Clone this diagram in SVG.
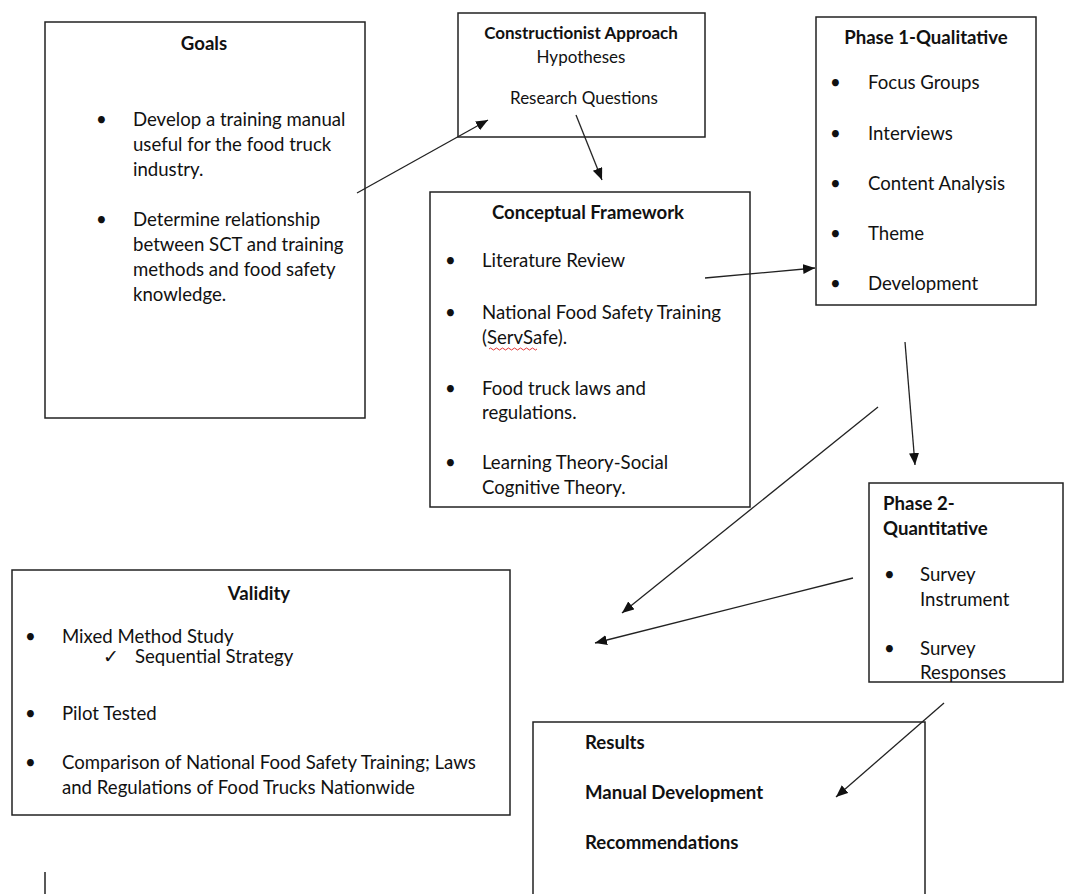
<svg xmlns="http://www.w3.org/2000/svg" width="1065" height="894" viewBox="0 0 1065 894">
<style>
.box{fill:#fff;stroke:#222;stroke-width:1.5}
text{font-family:Lato,"Open Sans",sans-serif;font-size:18.6px;fill:#111}
.b{font-weight:bold}
.c{text-anchor:middle}
.s{font-size:17px}
.conn{stroke:#222;stroke-width:1.3;fill:none;marker-end:url(#ah)}
</style>
<defs>
<marker id="ah" markerUnits="userSpaceOnUse" markerWidth="14" markerHeight="12" refX="12" refY="5" orient="auto">
<path d="M0,0 L12,5 L0,10 Z" fill="#111"/>
</marker>
</defs>
<g id="goals">
<rect class="box" x="45" y="22" width="320" height="396"/>
<text class="b c" x="204" y="50">Goals</text>
<text x="96" y="126">•</text><text x="133" y="126">Develop a training manual</text>
<text x="133" y="151">useful for the food truck</text>
<text x="133" y="176">industry.</text>
<text x="96" y="226">•</text><text x="133" y="226">Determine relationship</text>
<text x="133" y="251">between SCT and training</text>
<text x="133" y="276">methods and food safety</text>
<text x="133" y="301">knowledge.</text>
</g>
<g id="constructionist">
<rect class="box" x="458" y="13" width="247" height="124"/>
<text class="b c s" x="581" y="39">Constructionist Approach</text>
<text class="c s" x="581" y="63">Hypotheses</text>
<text class="c s" x="584" y="104">Research Questions</text>
</g>
<g id="conceptual">
<rect class="box" x="430" y="192" width="320" height="315"/>
<text class="b c" x="588" y="219">Conceptual Framework</text>
<text x="445" y="267">•</text><text x="482" y="267">Literature Review</text>
<text x="445" y="319">•</text><text x="482" y="319">National Food Safety Training</text>
<text x="482" y="344">(ServSafe).</text>
<path d="M489,349 q1.5,-2 3,0 t3,0 t3,0 t3,0 t3,0 t3,0 t3,0 t3,0 t3,0 t3,0 t3,0 t3,0 t3,0 t3,0 t3,0 t3,0" stroke="#e02020" stroke-width="0.9" fill="none"/>
<text x="445" y="395">•</text><text x="482" y="395">Food truck laws and</text>
<text x="482" y="419">regulations.</text>
<text x="445" y="469">•</text><text x="482" y="469">Learning Theory-Social</text>
<text x="482" y="494">Cognitive Theory.</text>
</g>
<g id="phase1">
<rect class="box" x="816" y="17" width="220" height="288"/>
<text class="b c" x="926" y="44">Phase 1-Qualitative</text>
<text x="830" y="89">•</text><text x="868" y="89">Focus Groups</text>
<text x="830" y="140">•</text><text x="868" y="140">Interviews</text>
<text x="830" y="190">•</text><text x="868" y="190">Content Analysis</text>
<text x="830" y="240">•</text><text x="868" y="240">Theme</text>
<text x="830" y="290">•</text><text x="868" y="290">Development</text>
</g>
<g id="phase2">
<rect class="box" x="869" y="483" width="194" height="199"/>
<text class="b" x="883" y="510">Phase 2-</text>
<text class="b" x="883" y="535">Quantitative</text>
<text x="884" y="581">•</text><text x="920" y="581">Survey</text>
<text x="920" y="606">Instrument</text>
<text x="884" y="655">•</text><text x="920" y="655">Survey</text>
<text x="920" y="679">Responses</text>
</g>
<g id="validity">
<rect class="box" x="12" y="570" width="498" height="245"/>
<text class="b c" x="259" y="600">Validity</text>
<text x="25" y="643">•</text><text x="62" y="643">Mixed Method Study</text>
<text x="103" y="663">✓</text><text x="135" y="663">Sequential Strategy</text>
<text x="25" y="720">•</text><text x="62" y="720">Pilot Tested</text>
<text x="25" y="769">•</text><text x="62" y="769">Comparison of National Food Safety Training; Laws</text>
<text x="62" y="794">and Regulations of Food Trucks Nationwide</text>
</g>
<g id="results">
<rect class="box" x="533" y="722" width="392" height="190"/>
<text class="b" x="585" y="749">Results</text>
<text class="b" x="585" y="799">Manual Development</text>
<text class="b" x="585" y="849">Recommendations</text>
</g>
<g id="connectors">
<path class="conn" d="M357,193 L488,120"/>
<path class="conn" d="M576,115 L602,180"/>
<path class="conn" d="M705,278 L815,268"/>
<path class="conn" d="M905,342 L915,465"/>
<path class="conn" d="M878,407 L622,613"/>
<path class="conn" d="M853,578 L595,643"/>
<path class="conn" d="M944,703 L836,797"/>
<path d="M45,872 L45,894" stroke="#222" stroke-width="1.5"/>
</g>
</svg>
